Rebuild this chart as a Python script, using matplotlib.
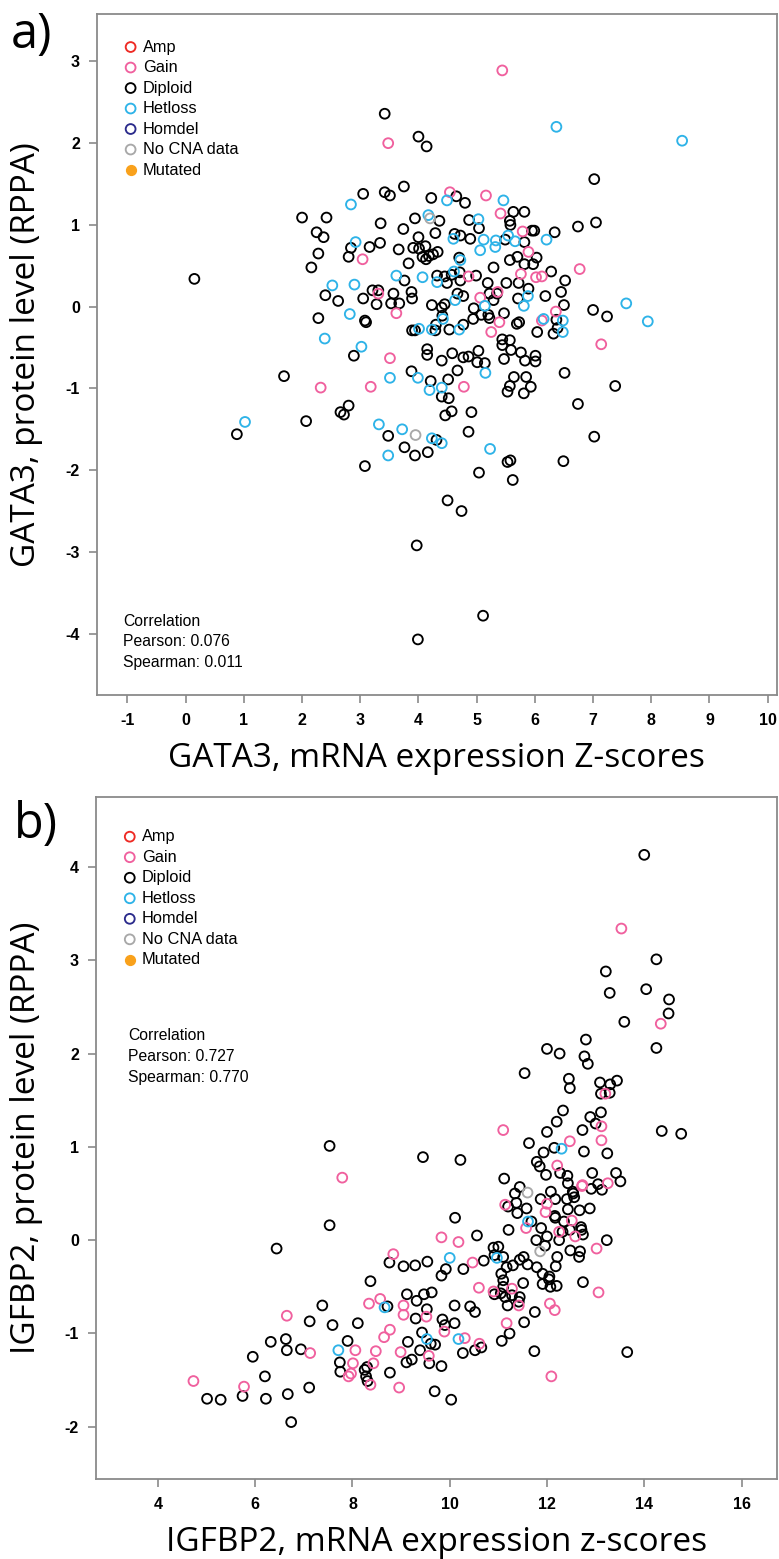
import matplotlib
matplotlib.use("Agg")
import matplotlib.pyplot as plt

# colours used by the CNA categories
CNA_COLORS = {
    "Amp": "#ee2a24",
    "Gain": "#f0609e",
    "Diploid": "#000000",
    "Hetloss": "#2eb3e8",
    "Homdel": "#2b2b8c",
    "No CNA data": "#a8a8a8",
    "Mutated": "#f9a11b",
}
legend_labels = ["Amp", "Gain", "Diploid", "Hetloss", "Homdel", "No CNA data", "Mutated"]

# ---- panel a: GATA3 ----
a_diploid = [
    (0.15, 0.34), (0.88, -1.56), (1.69, -0.85), (2.07, -1.40), (2.66, -1.29), (2.72, -1.32),
    (2.80, -1.21), (3.42, 2.36), (4.00, 2.08), (4.14, 1.96), (7.02, 1.56), (3.75, 1.47),
    (3.05, 1.38), (3.42, 1.40), (3.51, 1.36), (4.65, 1.35), (4.22, 1.33), (4.80, 1.27),
    (2.00, 1.09), (2.42, 1.09), (2.25, 0.91), (2.37, 0.85), (3.35, 1.02), (3.94, 1.08),
    (4.36, 1.05), (4.87, 1.06), (5.63, 1.16), (5.82, 1.16), (5.57, 1.05), (5.58, 1.00),
    (5.04, 0.96), (3.74, 0.95), (4.29, 0.90), (4.00, 0.85), (4.62, 0.89), (4.72, 0.87),
    (4.89, 0.83), (5.49, 0.82), (5.82, 0.79), (5.95, 0.93), (5.99, 0.93), (6.34, 0.91),
    (6.74, 0.98), (7.05, 1.03), (2.84, 0.72), (3.16, 0.73), (3.34, 0.78), (3.66, 0.70),
    (2.28, 0.65), (2.80, 0.61), (2.16, 0.48), (3.91, 0.72), (4.01, 0.71), (4.12, 0.74),
    (4.07, 0.61), (4.18, 0.62), (4.25, 0.64), (4.33, 0.67), (4.13, 0.58), (3.83, 0.53),
    (4.70, 0.60), (5.29, 0.48), (5.57, 0.57), (5.70, 0.61), (5.82, 0.52), (5.97, 0.52),
    (6.03, 0.60), (6.28, 0.43), (3.76, 0.32), (4.32, 0.38), (4.45, 0.37), (4.57, 0.39),
    (4.49, 0.29), (4.71, 0.42), (4.72, 0.32), (4.99, 0.38), (5.19, 0.29), (5.51, 0.29),
    (5.72, 0.29), (6.52, 0.32), (2.40, 0.14), (2.62, 0.07), (3.05, 0.10), (3.21, 0.20),
    (3.31, 0.20), (3.28, 0.03), (3.57, 0.16), (3.53, 0.04), (3.67, 0.04), (3.88, 0.18),
    (3.89, 0.10), (4.23, 0.02), (4.40, -0.01), (4.45, 0.03), (4.67, 0.16), (4.77, 0.13),
    (5.22, 0.16), (5.35, 0.16), (5.29, 0.08), (4.95, -0.02), (5.71, 0.10), (5.89, 0.22),
    (6.18, 0.13), (6.45, 0.18), (6.50, 0.02), (2.28, -0.14), (3.08, -0.17), (3.10, -0.19),
    (3.89, -0.29), (3.94, -0.29), (4.29, -0.29), (4.30, -0.22), (4.41, -0.11), (4.53, -0.28),
    (4.77, -0.22), (4.94, -0.15), (5.08, -0.10), (5.20, -0.10), (5.22, -0.14), (5.47, -0.08),
    (5.69, -0.21), (5.73, -0.19), (6.04, -0.31), (6.37, -0.16), (6.39, -0.26), (6.32, -0.33),
    (7.00, -0.04), (7.24, -0.12), (2.89, -0.60), (3.88, -0.79), (4.15, -0.52), (4.15, -0.59),
    (4.40, -0.66), (4.58, -0.57), (4.67, -0.78), (4.51, -0.89), (4.21, -0.91), (4.77, -0.62),
    (4.86, -0.61), (5.03, -0.54), (5.01, -0.68), (5.14, -0.69), (5.44, -0.40), (5.57, -0.41),
    (5.44, -0.47), (5.59, -0.53), (5.47, -0.64), (5.76, -0.56), (5.83, -0.66), (6.01, -0.60),
    (6.01, -0.67), (6.51, -0.81), (5.64, -0.86), (5.85, -0.86), (7.38, -0.97), (5.57, -0.97),
    (5.93, -0.98), (5.81, -1.06), (5.53, -1.04), (4.40, -1.10), (4.52, -1.12), (4.46, -1.33),
    (4.57, -1.28), (4.91, -1.29), (6.74, -1.19), (3.48, -1.58), (4.31, -1.63), (4.86, -1.53),
    (3.76, -1.72), (3.94, -1.82), (4.16, -1.78), (3.08, -1.95), (7.02, -1.59), (5.53, -1.90),
    (5.58, -1.88), (6.49, -1.89), (5.04, -2.03), (5.62, -2.12), (4.50, -2.37), (4.74, -2.50),
    (3.97, -2.92), (5.11, -3.78), (3.99, -4.07),
]
a_gain = [
    (5.44, 2.89), (3.48, 2.00), (4.54, 1.40), (5.16, 1.36), (5.41, 1.14), (5.79, 0.92),
    (3.04, 0.58), (5.89, 0.67), (6.77, 0.46), (4.86, 0.37), (5.76, 0.40), (6.02, 0.36),
    (6.12, 0.37), (3.31, 0.16), (3.62, -0.08), (5.06, 0.11), (5.36, 0.18), (5.39, -0.19),
    (5.25, -0.31), (6.12, -0.17), (6.36, -0.06), (7.14, -0.46), (3.51, -0.63), (2.32, -0.99),
    (3.18, -0.98), (4.78, -0.98),
]
a_hetloss = [
    (6.37, 2.20), (8.53, 2.03), (4.49, 1.30), (5.46, 1.30), (2.84, 1.25), (4.17, 1.12),
    (5.03, 1.07), (4.60, 0.83), (5.12, 0.82), (5.33, 0.81), (5.54, 0.87), (5.66, 0.80),
    (6.20, 0.82), (2.92, 0.79), (4.72, 0.57), (5.06, 0.69), (5.32, 0.73), (3.62, 0.38),
    (4.07, 0.36), (4.32, 0.30), (4.61, 0.43), (2.52, 0.26), (2.90, 0.27), (4.63, 0.08),
    (5.14, 0.01), (5.88, 0.13), (5.81, 0.01), (2.82, -0.09), (4.01, -0.27), (4.23, -0.28),
    (4.42, -0.15), (4.70, -0.28), (6.15, -0.15), (6.48, -0.17), (6.48, -0.31), (7.57, 0.04),
    (7.94, -0.18), (2.39, -0.39), (3.02, -0.49), (3.51, -0.87), (3.99, -0.87), (5.15, -0.81),
    (4.19, -1.02), (4.40, -0.99), (1.02, -1.41), (3.32, -1.44), (3.72, -1.50), (4.23, -1.61),
    (4.40, -1.67), (3.48, -1.82), (5.23, -1.74),
]
a_nocna = [(4.20, 1.08), (3.95, -1.57)]

# ---- panel b: IGFBP2 ----
b_diploid = [
    (14.00, 4.13), (14.25, 3.01), (13.21, 2.88), (14.04, 2.69), (13.29, 2.65), (14.51, 2.58),
    (14.50, 2.43), (13.59, 2.34), (12.80, 2.15), (12.00, 2.05), (12.26, 2.00), (14.25, 2.06),
    (12.77, 1.97), (12.84, 1.89), (11.54, 1.79), (12.45, 1.73), (12.47, 1.63), (13.09, 1.69),
    (13.30, 1.67), (13.44, 1.71), (13.11, 1.57), (13.29, 1.58), (12.33, 1.39), (12.20, 1.27),
    (12.89, 1.32), (13.00, 1.25), (13.11, 1.37), (12.73, 1.18), (12.00, 1.16), (14.36, 1.17),
    (14.76, 1.14), (11.63, 1.04), (12.15, 0.99), (11.93, 0.94), (12.76, 0.95), (13.24, 0.93),
    (7.53, 1.01), (9.45, 0.89), (10.22, 0.86), (11.79, 0.84), (11.85, 0.79), (11.98, 0.70),
    (12.27, 0.72), (12.42, 0.69), (12.43, 0.61), (12.53, 0.52), (12.93, 0.72), (13.05, 0.60),
    (12.91, 0.55), (13.13, 0.54), (13.42, 0.72), (13.51, 0.63), (11.12, 0.66), (11.44, 0.57),
    (11.34, 0.50), (11.37, 0.40), (11.20, 0.36), (11.58, 0.34), (11.87, 0.44), (12.08, 0.52),
    (12.17, 0.44), (12.41, 0.44), (12.54, 0.50), (12.56, 0.46), (12.43, 0.33), (12.67, 0.32),
    (12.88, 0.34), (12.16, 0.26), (12.17, 0.24), (11.39, 0.29), (11.68, 0.20), (12.35, 0.20),
    (12.32, 0.09), (12.47, 0.11), (12.70, 0.14), (12.74, 0.06), (12.71, 0.11), (11.88, 0.13),
    (12.00, 0.04), (11.78, 0.00), (11.96, -0.06), (12.25, 0.00), (12.48, -0.11), (12.68, -0.12),
    (12.66, -0.18), (12.21, -0.18), (12.18, -0.28), (13.23, 0.00), (11.21, 0.11), (10.11, 0.24),
    (10.56, 0.05), (6.44, -0.09), (7.53, 0.16), (8.76, -0.24), (9.05, -0.28), (9.29, -0.27),
    (9.54, -0.23), (10.70, -0.22), (10.90, -0.08), (11.00, -0.07), (11.10, -0.18), (10.92, -0.16),
    (9.83, -0.38), (9.92, -0.31), (10.28, -0.31), (11.17, -0.29), (11.30, -0.27), (11.44, -0.21),
    (11.52, -0.18), (11.60, -0.26), (11.79, -0.29), (11.91, -0.36), (12.05, -0.39), (11.06, -0.36),
    (11.10, -0.43), (8.37, -0.44), (11.91, -0.47), (12.07, -0.50), (12.20, -0.49), (12.04, -0.42),
    (12.74, -0.45), (10.92, -0.58), (11.05, -0.57), (11.14, -0.61), (11.28, -0.59), (11.42, -0.66),
    (11.44, -0.61), (11.19, -0.70), (11.10, -0.50), (11.51, -0.46), (11.75, -0.77), (11.53, -0.88),
    (11.23, -1.00), (11.07, -1.08), (11.74, -1.19), (13.65, -1.20), (9.12, -0.58), (9.32, -0.65),
    (9.47, -0.58), (9.63, -0.56), (9.53, -0.74), (9.30, -0.84), (8.72, -0.71), (7.38, -0.70),
    (10.10, -0.70), (10.42, -0.71), (10.52, -0.77), (9.85, -0.85), (9.90, -0.91), (10.10, -0.89),
    (8.11, -0.89), (7.59, -0.91), (7.12, -0.87), (9.43, -0.99), (9.14, -1.09), (9.61, -1.11),
    (9.70, -1.12), (9.39, -1.18), (9.11, -1.31), (9.22, -1.28), (9.58, -1.32), (9.83, -1.35),
    (10.52, -1.18), (10.65, -1.15), (10.27, -1.21), (7.90, -1.08), (7.74, -1.31), (7.75, -1.41),
    (8.25, -1.39), (8.30, -1.36), (8.28, -1.46), (8.31, -1.51), (8.77, -1.42), (9.69, -1.62),
    (10.03, -1.71), (6.94, -1.17), (6.63, -1.06), (6.65, -1.18), (6.32, -1.09), (5.95, -1.25),
    (6.20, -1.46), (5.01, -1.70), (5.29, -1.71), (5.74, -1.67), (6.22, -1.70), (6.67, -1.65),
    (7.11, -1.58), (6.74, -1.95),
]
b_gain = [
    (13.53, 3.34), (14.34, 2.32), (13.20, 1.57), (13.12, 1.22), (11.10, 1.18), (13.12, 1.07),
    (12.47, 1.06), (7.79, 0.67), (12.21, 0.80), (12.73, 0.59), (13.25, 0.61), (12.72, 0.58),
    (11.14, 0.38), (12.00, 0.39), (11.97, 0.30), (11.57, 0.13), (12.51, 0.21), (12.25, 0.09),
    (12.58, 0.04), (13.02, -0.09), (9.83, 0.03), (10.18, -0.02), (8.84, -0.15), (10.47, -0.24),
    (10.60, -0.51), (13.06, -0.56), (10.90, -0.55), (11.28, -0.52), (11.42, -0.70), (11.17, -0.89),
    (12.06, -0.68), (12.16, -0.75), (12.09, -1.46), (8.34, -0.68), (8.57, -0.63), (9.05, -0.70),
    (9.05, -0.80), (9.52, -0.82), (6.65, -0.81), (8.77, -0.96), (8.65, -1.04), (9.89, -0.98),
    (10.31, -1.05), (8.99, -1.20), (9.57, -1.24), (8.48, -1.19), (10.61, -1.11), (8.06, -1.18),
    (7.13, -1.21), (8.01, -1.32), (8.43, -1.32), (7.97, -1.43), (7.92, -1.46), (8.37, -1.55),
    (8.96, -1.58), (4.73, -1.51), (5.77, -1.57),
]
b_hetloss = [
    (12.30, 0.98), (11.61, 0.20), (10.00, -0.19), (10.97, -0.19), (8.66, -0.72), (10.18, -1.06),
    (9.53, -1.06), (7.71, -1.18),
]
b_nocna = [(11.60, 0.51), (11.86, -0.12)]

a_pearson, a_spearman = "0.076", "0.011"
b_pearson, b_spearman = "0.727", "0.770"

a_xticks = list(range(-1, 11))
a_yticks = [-4, -3, -2, -1, 0, 1, 2, 3]
b_xticks = [4, 6, 8, 10, 12, 14, 16]
b_yticks = [-2, -1, 0, 1, 2, 3, 4]

FRAME = "#8a8a8a"
LABEL_FONT = ["Open Sans", "DejaVu Sans"]
TEXT_FONT = ["Liberation Sans", "DejaVu Sans"]

fig = plt.figure(figsize=(7.79, 15.59), dpi=100)


def draw_panel(rect, groups, xlim, ylim, xticks, yticks, xlabel, ylabel,
               pearson, spearman, leg_top, corr_top, corr_x):
    ax = fig.add_axes(rect)
    for pts, name in groups:
        xs = [p[0] for p in pts]
        ys = [p[1] for p in pts]
        ax.scatter(xs, ys, s=50, facecolors="none", edgecolors=CNA_COLORS[name],
                   linewidths=1.35, zorder=3)
    ax.set_xlim(*xlim)
    ax.set_ylim(*ylim)
    ax.set_xticks(xticks)
    ax.set_yticks(yticks)
    ax.set_xticklabels([str(t) for t in xticks], fontweight="bold", family=TEXT_FONT)
    ax.set_yticklabels([str(t) for t in yticks], fontweight="bold", family=TEXT_FONT)
    ax.tick_params(axis="x", direction="out", length=5.5, width=1.2, color=FRAME,
                   labelsize=11.5, pad=7.5)
    ax.tick_params(axis="y", direction="out", length=6, width=1.2, color=FRAME,
                   labelsize=11.5, pad=6)
    for sp in ax.spines.values():
        sp.set_color(FRAME)
        sp.set_linewidth(1.3)

    # legend drawn by hand, R style
    step = 0.0301
    for i, name in enumerate(legend_labels):
        yy = leg_top - i * step
        if name == "Mutated":
            ax.scatter([0.05], [yy], s=50, color=CNA_COLORS[name], transform=ax.transAxes,
                       zorder=4)
        else:
            ax.scatter([0.05], [yy], s=50, facecolors="none", edgecolors=CNA_COLORS[name],
                       linewidths=1.35, transform=ax.transAxes, zorder=4)
        ax.text(0.068, yy, name, transform=ax.transAxes, va="center", ha="left",
                fontsize=11.8, family=TEXT_FONT)

    lines = ["Correlation", "Pearson: " + pearson, "Spearman: " + spearman]
    for i, ln in enumerate(lines):
        ax.text(corr_x, corr_top - i * step, ln, transform=ax.transAxes, va="center",
                ha="left", fontsize=11.3, family=TEXT_FONT)

    cx = rect[0] + rect[2] / 2
    fig.text(cx, rect[1] - 72 / 1559, xlabel, ha="center", va="baseline",
             fontsize=24, family=LABEL_FONT)
    fig.text(27 / 779, rect[1] + rect[3] / 2, ylabel, rotation=90, ha="center",
             va="center", fontsize=24, family=LABEL_FONT)
    return ax


draw_panel([96.6 / 779, 1 - 695 / 1559, 680.4 / 779, 681 / 1559],
           [(a_diploid, "Diploid"), (a_gain, "Gain"), (a_hetloss, "Hetloss"), (a_nocna, "No CNA data")],
           (-1.53, 10.16), (-4.75, 3.58), a_xticks, a_yticks,
           "GATA3, mRNA expression Z-scores", "GATA3, protein level (RPPA)",
           a_pearson, a_spearman, 0.9515, 0.1083, 0.039)

draw_panel([95.7 / 779, 1 - 1479 / 1559, 681.3 / 779, 682 / 1559],
           [(b_diploid, "Diploid"), (b_gain, "Gain"), (b_hetloss, "Hetloss"), (b_nocna, "No CNA data")],
           (2.72, 16.73), (-2.56, 4.75), b_xticks, b_yticks,
           "IGFBP2, mRNA expression z-scores", "IGFBP2, protein level (RPPA)",
           b_pearson, b_spearman, 0.9418, 0.6496, 0.048)

fig.text(11 / 779, 1 - 10 / 1559, "a)", ha="left", va="top", fontsize=35, family=LABEL_FONT)
fig.text(14 / 779, 1 - 800 / 1559, "b)", ha="left", va="top", fontsize=35, family=LABEL_FONT)

fig.savefig("out.png", dpi=100)
